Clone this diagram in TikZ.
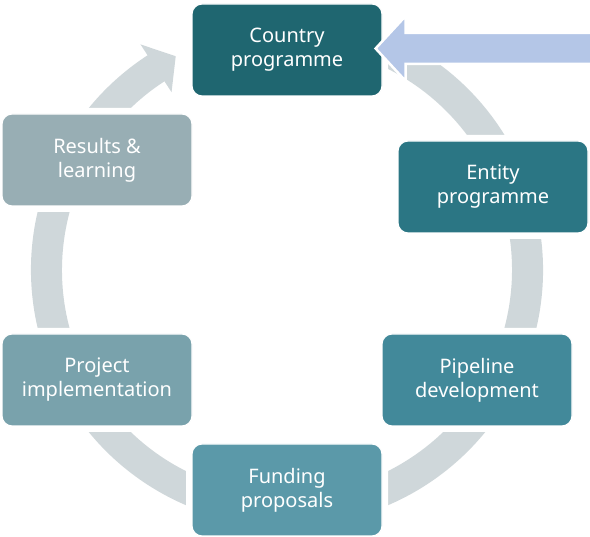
\documentclass[tikz,border=0pt]{standalone}
\usepackage{fontspec}
\setmainfont{Noto Sans}
\usepackage{tikz}
\usetikzlibrary{calc}
\definecolor{ringgray}{HTML}{CFD7DA}
\definecolor{inblue}{HTML}{B4C6E7}
\definecolor{tealA}{HTML}{1F6670}
\definecolor{tealB}{HTML}{2B7684}
\definecolor{tealC}{HTML}{42899A}
\definecolor{tealD}{HTML}{5B99A9}
\definecolor{tealE}{HTML}{79A2AC}
\definecolor{tealF}{HTML}{98AEB4}
\tikzstyle{stage} = [rectangle, 
rounded corners=10pt, 
minimum width=190pt, 
minimum height=92pt, 
align=center, 
text=white, 
draw=white, line width=1.2pt, 
preaction={draw=white, fill=white, line width=12pt}, % gap round the ring
font=\fontsize{20}{24}\selectfont]

\begin{document}
\begin{tikzpicture}[x=1pt, y=1pt]
\useasboundingbox (0,0) rectangle (590,537);
\coordinate (c) at (287,267);
% ring arrow
\fill [ringgray] ($(c)+(64:256pt)$) arc[start angle=64, end angle=-237, radius=256pt]
  -- ($(c)+(123:269pt)$) -- ($(c)+(117.5:241pt)$) -- ($(c)+(123:212pt)$)
  -- ($(c)+(123:225pt)$) arc[start angle=123, end angle=424, radius=225pt] -- cycle;

\node (country) [stage, fill=tealA] at (287,487) {Country\\programme};
\node (entity) [stage, fill=tealB] at (493,350) {Entity\\programme};
\node (pipeline) [stage, fill=tealC] at (477,157) {Pipeline\\development};
\node (funding) [stage, fill=tealD] at (287,47) {Funding\\proposals};
\node (project) [stage, fill=tealE] at (97,157) {Project\\implementation};
\node (results) [stage, fill=tealF] at (97,377) {Results \&\\learning};

% input arrow
\coordinate (tip) at ([xshift=-7pt, yshift=1.5pt]country.east);
\filldraw [fill=inblue, draw=white, line width=2.5pt]
  (tip) -- ++(30,32.5) -- ++(0,-17) -- ++(190,0) -- ++(0,-31) -- ++(-190,0) -- ++(0,-17) -- cycle;
\end{tikzpicture}
\end{document}
